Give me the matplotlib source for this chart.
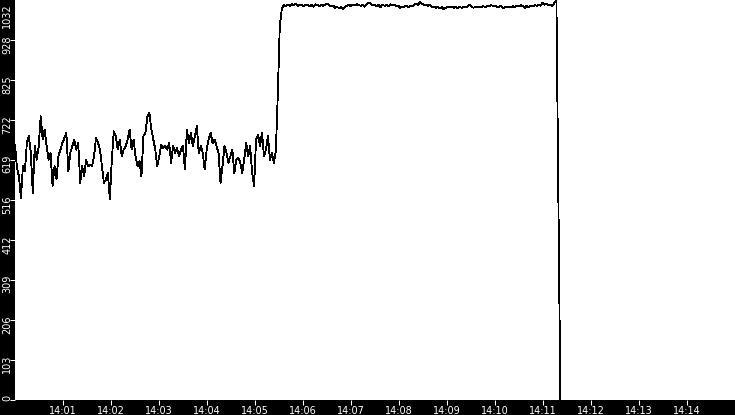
import datetime as dt

import matplotlib
matplotlib.use("Agg")
import matplotlib.pyplot as plt
import matplotlib.transforms as mtransforms
import numpy as np

# sampling of the logged signal
START = dt.datetime(2024, 1, 1, 14, 0, 0)
PERIOD_S = 2.47
WINDOW_MIN = 15

# first plateau (~620)
level_low_a = [
    659, 599, 577, 521, 603, 590, 663, 681, 638, 534, 655, 620, 655, 732, 672, 698,
    655, 620, 638, 552, 603, 569, 629, 646, 663, 676, 689, 590, 638, 655, 672, 646,
    663, 560, 603, 577, 620, 603, 607, 603, 629, 676, 663, 646, 603, 560, 569, 586,
    517, 620, 693, 681, 646, 672, 629, 646, 655, 672, 698, 646, 672, 629, 603, 616,
    577, 681,
]
level_low_b = [
    689, 732, 741, 698, 672, 646, 603, 629, 659, 650, 655, 646, 663, 612, 655, 638,
    650, 629, 646, 655, 595, 698, 663, 689, 655, 681, 706, 638, 655, 638, 595, 646,
    672, 689, 663, 672, 655, 638, 560, 603, 655, 638, 612, 629, 646, 586, 620, 625,
    612, 586, 620, 663, 629, 655, 586, 552, 672, 685, 655, 689, 629, 646, 681, 620,
    638, 612, 642,
]
ramp_up = [790, 965]
# second plateau (~1015)
level_high_a = [
    1008, 1019, 1016, 1020, 1017, 1021, 1019, 1022, 1017, 1020,
    1019, 1015, 1019, 1020, 1017, 1019, 1015, 1021, 1019, 1016,
    1019, 1017, 1020, 1022, 1019, 1016, 1018, 1012, 1014, 1011,
    1014, 1008, 1015, 1017, 1020, 1016, 1020, 1018, 1021, 1019,
    1017, 1019, 1015, 1020, 1025, 1022, 1019, 1020, 1016, 1019,
    1014, 1020, 1017, 1020, 1016, 1021, 1018, 1020, 1015, 1017,
    1012, 1014, 1014, 1018, 1013, 1017, 1015, 1020, 1022, 1020,
]
level_high_b = [
    1026, 1022, 1019, 1020, 1017, 1019, 1015, 1014, 1012, 1015,
    1010, 1014, 1008, 1012, 1015, 1014, 1015, 1012, 1014, 1010,
    1014, 1012, 1014, 1013, 1015, 1019, 1015, 1012, 1014, 1013,
    1015, 1014, 1016, 1014, 1017, 1015, 1019, 1016, 1017, 1014,
    1014, 1017, 1010, 1015, 1014, 1015, 1014, 1016, 1014, 1017,
    1015, 1019, 1016, 1012, 1017, 1014, 1018, 1015, 1019, 1017,
    1020, 1017, 1025, 1020, 1022, 1019, 1020, 1017, 1025, 1029,
]
ramp_down = [516, 0]

Y_MAX = 1032
y_tick_labels = ["0", "103", "206", "309", "412", "516", "619", "722", "825", "928", "1032"]
x_tick_labels = ["14:01", "14:02", "14:03", "14:04", "14:05", "14:06", "14:07",
                 "14:08", "14:09", "14:10", "14:11", "14:12", "14:13", "14:14"]

values = np.array(level_low_a + level_low_b + ramp_up + level_high_a + level_high_b + ramp_down,
                  dtype=float)
times = [START + dt.timedelta(seconds=i * PERIOD_S) for i in range(len(values))]

fig = plt.figure(figsize=(7.35, 4.15), dpi=100, facecolor="black")
ax = fig.add_axes([15 / 735, 15 / 415, 720 / 735, 400 / 415])
ax.set_facecolor("white")
for side in ["top", "bottom", "left", "right"]:
    ax.spines[side].set_visible(False)

ax.plot(times, values, color="black", linewidth=0.6, antialiased=False)

ax.set_xlim(START, START + dt.timedelta(minutes=WINDOW_MIN))
ax.set_ylim(0, Y_MAX)

x_ticks = [dt.datetime.combine(START.date(), dt.datetime.strptime(s, "%H:%M").time())
           for s in x_tick_labels]
ax.set_xticks(x_ticks)
ax.set_xticklabels(x_tick_labels)
ax.set_yticks(np.linspace(0, Y_MAX, len(y_tick_labels)))
ax.set_yticklabels(y_tick_labels)

ax.tick_params(colors="white", direction="out", length=3.6, width=0.72, labelsize=7)
ax.tick_params(axis="x", pad=1.0)
ax.tick_params(axis="y", labelrotation=90, pad=-1.6)

# y labels sit just below their tick, the top one is pushed inside the figure
labels = ax.get_yticklabels()
for i, label in enumerate(labels):
    shift = -3 if i == len(labels) - 1 else 5
    label.set_verticalalignment("top")
    label.set_transform(label.get_transform()
                        + mtransforms.ScaledTranslation(0, shift / 100, fig.dpi_scale_trans))
ax.yaxis.get_major_ticks()[-1].tick1line.set_visible(False)

fig.savefig("out.png", dpi=100, facecolor="black")
plt.close(fig)
